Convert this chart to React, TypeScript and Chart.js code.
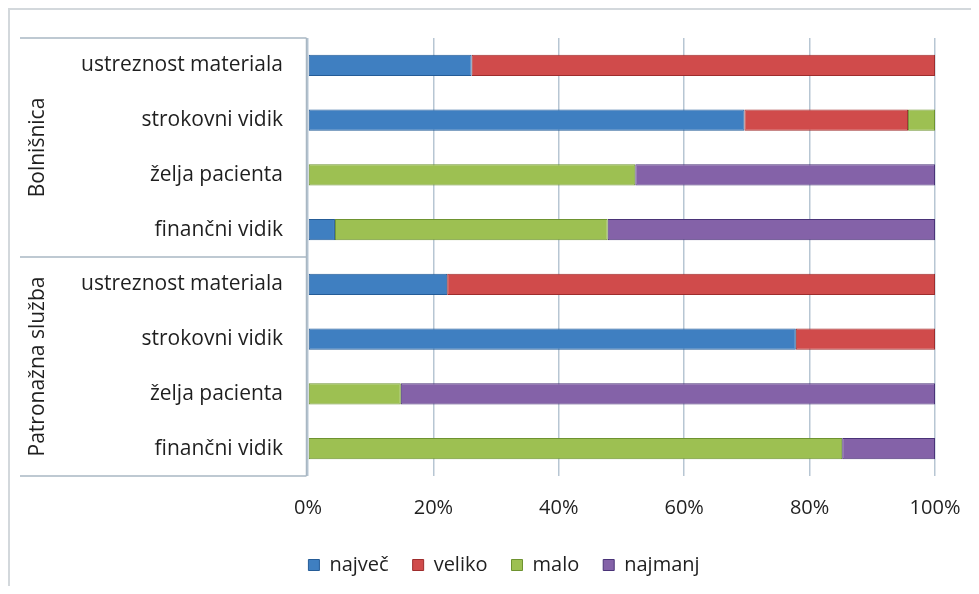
import { useEffect, useRef } from "react";
import { Chart, registerables } from "chart.js";

Chart.register(...registerables);

// Row labels, top to bottom
const categories = [
  "ustreznost materiala",
  "strokovni vidik",
  "želja pacienta",
  "finančni vidik",
  "ustreznost materiala",
  "strokovni vidik",
  "želja pacienta",
  "finančni vidik",
];
// Outer category groups and how many rows each spans
const groups = ["Bolnišnica", "Patronažna služba"];
const groupSizes = [4, 4];

const seriesNames = ["največ", "veliko", "malo", "najmanj"];
// Shares in percent per row
const najvec = [26.1, 69.6, 0, 4.3, 22.2, 77.8, 0, 0];
const veliko = [73.9, 26.1, 0, 0, 77.8, 22.2, 0, 0];
const malo = [0, 4.3, 52.2, 43.5, 0, 0, 14.8, 85.2];
const najmanj = [0, 0, 47.8, 52.2, 0, 0, 85.2, 14.8];

const tickValues = [0, 20, 40, 60, 80, 100];

const FONT = "'Open Sans', 'Noto Sans', sans-serif";
const TEXT = "#1F1F1F";
const FILLS = ["#3F7FC1", "#D04B4B", "#9DC052", "#8462A8"];
const EDGES = ["#255C97", "#9E2D2D", "#6E9330", "#4A3378"];

// Draws the frame, the grouped category box and the rotated group names
const groupBoxPlugin = {
  id: "groupBox",
  afterDraw(chart: Chart) {
    const { ctx, chartArea } = chart;
    const yScale = chart.scales.y;
    ctx.save();

    // outer frame (top and left edges)
    ctx.fillStyle = "#D3D8DC";
    ctx.fillRect(0, 0, chart.width, 2);
    ctx.fillRect(0, 0, 2, chart.height);

    const boxLeft = 12;
    const boxRight = chartArea.left - 1.5;
    const top = chartArea.top;
    const bottom = chartArea.bottom;

    ctx.strokeStyle = "#A9B7C3";
    ctx.lineWidth = 1.5;
    const hLine = (y: number) => {
      ctx.beginPath();
      ctx.moveTo(boxLeft, y);
      ctx.lineTo(boxRight, y);
      ctx.stroke();
    };
    hLine(top);
    hLine(bottom);
    ctx.beginPath();
    ctx.moveTo(boxRight, top);
    ctx.lineTo(boxRight, bottom);
    ctx.stroke();

    const half =
      (yScale.getPixelForValue(1) - yScale.getPixelForValue(0)) / 2;
    let start = 0;
    groups.forEach((name, gi) => {
      const end = start + groupSizes[gi] - 1;
      const y0 = gi === 0 ? top : yScale.getPixelForValue(start) - half;
      const y1 =
        gi === groups.length - 1 ? bottom : yScale.getPixelForValue(end) + half;
      if (gi > 0) hLine(y0);
      ctx.save();
      ctx.translate(30, (y0 + y1) / 2);
      ctx.rotate(-Math.PI / 2);
      ctx.fillStyle = TEXT;
      ctx.font = `21px ${FONT}`;
      ctx.textAlign = "center";
      ctx.textBaseline = "middle";
      ctx.fillText(name, 0, 0);
      ctx.restore();
      start = end + 1;
    });

    ctx.restore();
  },
};

export default function App() {
  const canvasRef = useRef<HTMLCanvasElement | null>(null);

  useEffect(() => {
    if (!canvasRef.current) return;
    const series = [najvec, veliko, malo, najmanj];
    const chart = new Chart(canvasRef.current, {
      type: "bar",
      data: {
        labels: categories,
        datasets: series.map((values, i) => ({
          label: seriesNames[i],
          data: values,
          backgroundColor: FILLS[i],
          borderColor: EDGES[i],
          borderWidth: 1,
          borderSkipped: false,
          categoryPercentage: 1,
          barPercentage: 0.385,
        })),
      },
      options: {
        indexAxis: "y",
        animation: false,
        responsive: true,
        maintainAspectRatio: false,
        layout: { padding: { top: 30, left: 65, right: 36, bottom: 1 } },
        plugins: {
          legend: {
            position: "bottom",
            labels: {
              boxWidth: 11,
              boxHeight: 11,
              padding: 24,
              color: TEXT,
              font: { family: FONT, size: 20 },
            },
          },
          tooltip: { enabled: false },
        },
        scales: {
          x: {
            stacked: true,
            min: 0,
            max: 100,
            afterBuildTicks: (scale: any) => {
              scale.ticks = tickValues.map((v) => ({ value: v }));
            },
            afterFit: (scale: any) => {
              scale.height = 55;
            },
            ticks: {
              padding: 0,
              color: TEXT,
              font: { family: FONT, size: 20 },
              callback: (v: any) => `${v}%`,
            },
            grid: {
              color: "#B7C6D3",
              lineWidth: 1.5,
              drawTicks: true,
              tickLength: 20,
              tickColor: "rgba(0,0,0,0)",
            },
            border: { display: false },
          },
          y: {
            stacked: true,
            afterFit: (scale: any) => {
              scale.width = 235;
            },
            ticks: {
              padding: 0,
              color: TEXT,
              font: { family: FONT, size: 21 },
            },
            grid: {
              display: true,
              drawOnChartArea: false,
              drawTicks: true,
              tickLength: 25,
              color: "rgba(0,0,0,0)",
              tickColor: "rgba(0,0,0,0)",
            },
            border: { display: false },
          },
        },
      },
      plugins: [groupBoxPlugin],
    });
    return () => chart.destroy();
  }, []);

  return (
    <div style={{ position: "relative", width: "100%", height: 578 }}>
      <canvas ref={canvasRef} />
    </div>
  );
}
